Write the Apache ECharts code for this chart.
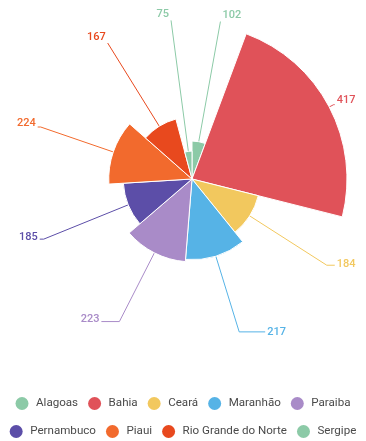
<!DOCTYPE html>
<html>
<head>
<meta charset="utf-8">
<style>
html,body{margin:0;padding:0;background:#fff;}
#chart{width:366px;height:441px;}
</style>
<script src="https://cdn.jsdelivr.net/npm/echarts@6/dist/echarts.min.js"></script>
</head>
<body>
<div id="chart"></div>
<script>
const categories = ['Alagoas','Bahia','Ceará','Maranhão','Paraiba','Pernambuco','Piaui','Rio Grande do Norte','Sergipe'];
const values = [102,417,184,217,223,185,224,167,75];
const colors = ['#8ccaa7','#e05259','#f2c85e','#56b3e6','#a98bc8','#5c4ea8','#f26a2d','#e8491e','#8ccaa7'];
const legendRow1 = categories.slice(0,5);
const legendRow2 = categories.slice(5);

// per-slice label line tweaks (style only)
const lineLen2 = [0, 1, 8, 26, 18, 4, 3, 0, 0];
const labelLift = [6, 4, 1, 0, 2, 2, 4, 6, 6];

const legendBase = {
  left:'center',
  orient:'horizontal',
  icon:'circle',
  itemWidth:18,
  itemHeight:13,
  itemGap:10,
  padding:[0,0,0,15],
  itemStyle:{borderWidth:0},
  textStyle:{color:'#4a4a4a',fontSize:11.6,fontFamily:'Roboto'}
};

const chart = echarts.init(document.getElementById('chart'), null, {renderer:'canvas'});
chart.setOption({
  animation:false,
  color: colors,
  textStyle:{fontFamily:'Roboto'},
  legend:[
    Object.assign({}, legendBase, {top:397, data: legendRow1}),
    Object.assign({}, legendBase, {top:425, data: legendRow2})
  ],
  series:[{
    type:'pie',
    roseType:'radius',
    center:[192,179],
    radius:[0,155],
    startAngle:90,
    itemStyle:{borderColor:'#fff',borderWidth:1},
    label:{
      show:true,
      formatter:'{c}',
      fontSize:11,
      fontWeight:500,
      fontFamily:'Roboto',
      color:'inherit',
      overflow:'none',
      distanceToLabelLine:2
    },
    labelLine:{length:5,length2:8,lineStyle:{width:1}},
    labelLayout: function(p){ return {dy: -labelLift[p.dataIndex]}; },
    data: categories.map((n,i)=>({
      name:n,
      value:values[i],
      labelLine:{length2:lineLen2[i]}
    }))
  }]
});
</script>
</body>
</html>
